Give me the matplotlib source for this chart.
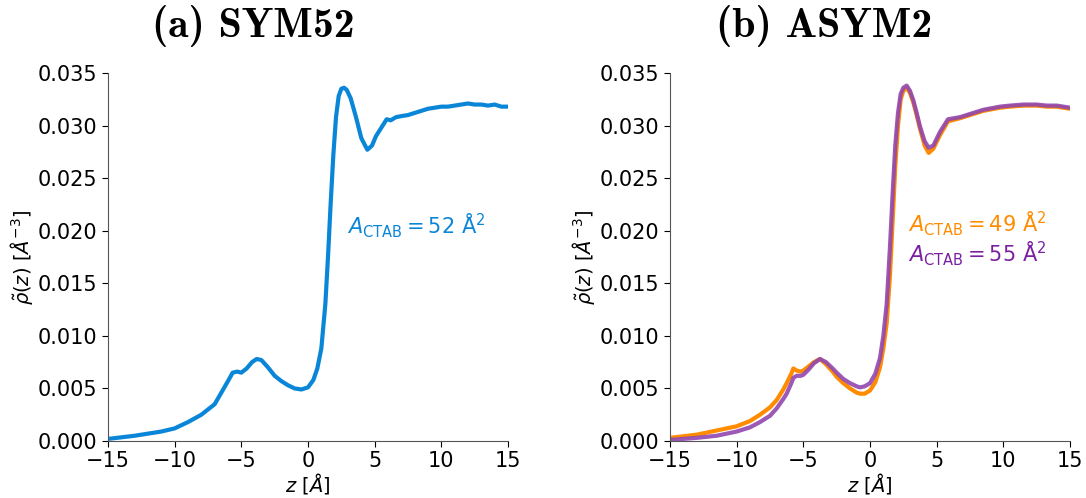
import os
import numpy as np
import matplotlib
matplotlib.use('Agg')
from matplotlib import pyplot as plt
from matplotlib.font_manager import FontProperties

# (a) SYM52
z_sym = [-15, -13, -11, -10, -9, -8, -7, -6.5, -6, -5.65, -5.3, -5.0, -4.6, -4.2, -3.85, -3.5,
         -3.0, -2.5, -2.0, -1.5, -1.0, -0.5, 0, 0.4, 0.7, 1.0, 1.3, 1.5, 1.7, 1.9, 2.1, 2.3,
         2.5, 2.7, 2.9, 3.2, 3.6, 4.0, 4.45, 4.8, 5.1, 5.5, 5.9, 6.2, 6.6, 7.0, 7.5, 8.0,
         8.5, 9.0, 9.5, 10, 10.5, 11, 11.5, 12, 12.5, 13, 13.5, 14, 14.5, 15]
rho_sym52 = [0.0002, 0.0005, 0.0009, 0.0012, 0.0018, 0.0025, 0.0035, 0.0046, 0.0057, 0.0065,
             0.0066, 0.0065, 0.0069, 0.0075, 0.0078, 0.0077, 0.0070, 0.0062, 0.0057, 0.0053,
             0.0050, 0.0049, 0.0051, 0.0058, 0.0069, 0.0088, 0.0130, 0.0175, 0.0226, 0.0272,
             0.0308, 0.0328, 0.0335, 0.0336, 0.0334, 0.0326, 0.0308, 0.0288, 0.0277, 0.0281,
             0.0290, 0.0298, 0.0306, 0.0305, 0.0308, 0.0309, 0.0310, 0.0312, 0.0314, 0.0316,
             0.0317, 0.0318, 0.0318, 0.0319, 0.0320, 0.0321, 0.0320, 0.0320, 0.0319, 0.0320,
             0.0318, 0.0318]

# (b) ASYM2
z_asym = [-15, -13, -11.5, -10, -9, -8.25, -7.5, -7, -6.5, -6.25, -5.9, -5.75, -5.5, -5.2,
          -5.0, -4.6, -4.2, -3.75, -3.3, -2.8, -2.5, -2.0, -1.5, -1.0, -0.75, -0.4, 0, 0.4,
          0.75, 1.0, 1.25, 1.5, 1.7, 1.9, 2.1, 2.3, 2.5, 2.75, 3.0, 3.25, 3.5, 3.75, 4.1,
          4.4, 4.75, 5.25, 5.85, 6.75, 7.5, 8.5, 9.75, 10.5, 11.5, 12.5, 13.25, 14, 15]
rho_49 = [0.0003, 0.0006, 0.0010, 0.0014, 0.0019, 0.0025, 0.0032, 0.0039, 0.0049, 0.0055,
          0.0064, 0.0069, 0.0067, 0.0066, 0.0067, 0.0071, 0.0075, 0.0078, 0.0073, 0.0066,
          0.0061, 0.0055, 0.0050, 0.0046, 0.0045, 0.0045, 0.0048, 0.0056, 0.0070, 0.0088,
          0.0112, 0.0158, 0.0210, 0.0262, 0.0300, 0.0325, 0.0333, 0.0336, 0.0331, 0.0322,
          0.0310, 0.0297, 0.0281, 0.0274, 0.0278, 0.0291, 0.0304, 0.0307, 0.0310, 0.0314,
          0.0317, 0.0318, 0.0319, 0.0319, 0.0318, 0.0318, 0.0316]
rho_55 = [0.0001, 0.0003, 0.0005, 0.0009, 0.0013, 0.0018, 0.0024, 0.0031, 0.0040, 0.0045,
          0.0055, 0.0060, 0.0062, 0.0062, 0.0063, 0.0068, 0.0074, 0.0078, 0.0075, 0.0069,
          0.0065, 0.0059, 0.0055, 0.0052, 0.0051, 0.0052, 0.0055, 0.0064, 0.0079, 0.0100,
          0.0130, 0.0185, 0.0236, 0.0282, 0.0312, 0.0330, 0.0336, 0.0338, 0.0333, 0.0324,
          0.0312, 0.0299, 0.0285, 0.0279, 0.0281, 0.0294, 0.0306, 0.0308, 0.0311, 0.0315,
          0.0318, 0.0319, 0.0320, 0.0320, 0.0319, 0.0319, 0.0317]

c_blue = '#0a86d8'
c_orange = '#ff8c00'
c_purple = '#9147b0'

xticks = [-15, -10, -5, 0, 5, 10, 15]
yticks = [0.000, 0.005, 0.010, 0.015, 0.020, 0.025, 0.030, 0.035]

# computer modern bold shipped with matplotlib
cmb = os.path.join(matplotlib.get_data_path(), 'fonts', 'ttf', 'cmb10.ttf')
title_font = FontProperties(fname=cmb, size=30)

fig = plt.figure(figsize=(10.86, 4.98), dpi=100)
ax1 = fig.add_axes([108/1086, 57/498, 400/1086, 368/498])
ax2 = fig.add_axes([670/1086, 57/498, 400/1086, 368/498])

ax1.plot(z_sym, rho_sym52, color=c_blue, lw=3)
ax2.plot(z_asym, rho_49, color=c_orange, lw=3)
ax2.plot(z_asym, rho_55, color=c_purple, lw=3, alpha=0.9)

for ax in (ax1, ax2):
    ax.set_xlim(-15, 15)
    ax.set_ylim(0, 0.035)
    ax.set_xticks(xticks)
    ax.set_yticks(yticks)
    ax.set_yticklabels(['%.3f' % v for v in yticks])
    ax.tick_params(labelsize=15, length=4)
    ax.spines['top'].set_visible(False)
    ax.spines['right'].set_visible(False)
    for s in ('left', 'bottom'):
        ax.spines[s].set_color('#555555')
    ax.set_xlabel(r'$z$ [$\AA$]', fontsize=14, labelpad=0)
    ax.set_ylabel(r'$\tilde{\rho}(z)$ [$\AA^{-3}$]', fontsize=14, labelpad=2)

ax1.set_title('(a) SYM52', fontproperties=title_font, x=0.363, y=1.075)
ax2.set_title('(b) ASYM2', fontproperties=title_font, x=0.385, y=1.075)

ax1.text(0.597, 0.585, r'$A_{\mathrm{CTAB}} = 52\ \mathrm{\AA}^2$', color=c_blue,
         fontsize=15, transform=ax1.transAxes, va='center')
ax2.text(0.595, 0.59, r'$A_{\mathrm{CTAB}} = 49\ \mathrm{\AA}^2$', color=c_orange,
         fontsize=15, transform=ax2.transAxes, va='center')
ax2.text(0.595, 0.508, r'$A_{\mathrm{CTAB}} = 55\ \mathrm{\AA}^2$', color='#7b1fa2',
         fontsize=15, transform=ax2.transAxes, va='center')

plt.savefig('out.png', dpi=100)
